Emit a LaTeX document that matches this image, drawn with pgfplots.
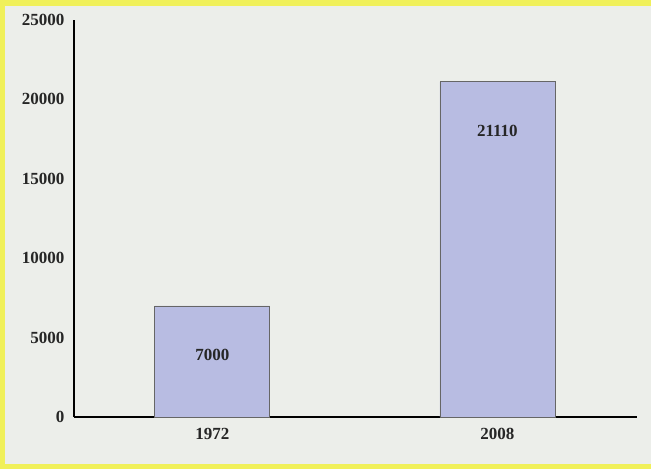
\documentclass[border=0pt]{standalone}
\usepackage{pgfplots}
\pgfplotsset{compat=1.18}
\usepackage{fontspec}
\setmainfont{Liberation Serif}
\definecolor{bgcol}{RGB}{236,238,234}
\definecolor{ylw}{RGB}{240,240,90}
\definecolor{barcol}{RGB}{184,188,226}
\begin{document}
\begin{tikzpicture}[x=1pt,y=1pt]
\useasboundingbox (0,0) rectangle (651,469);
\fill[bgcol] (0,0) rectangle (651,469);
\fill[ylw] (0,463) rectangle (651,469);
\fill[ylw] (0,0) rectangle (651,5);
\fill[ylw] (0,0) rectangle (5,469);
\begin{axis}[
  at={(74pt,52pt)}, anchor=south west,
  scale only axis, width=563pt, height=397pt,
  xmin=-0.485, xmax=1.49,
  ymin=0, ymax=25000,
  ytick={0,5000,10000,15000,20000,25000},
  scaled y ticks=false,
  xtick={0,1}, xticklabels={1972,2008},
  axis x line*=bottom, axis y line*=left,
  x axis line style={-, line width=2.2pt},
  y axis line style={-, line width=1.6pt},
  major tick length=0pt,
  tick label style={font=\fontsize{17}{19}\selectfont\bfseries, text=black!85},
  /pgf/number format/assume math mode=true,
  /pgf/number format/1000 sep={},
  yticklabel style={xshift=-6pt},
  xticklabel style={yshift=-8pt},
  axis background/.style={fill=none},
  clip=false,
]
\addplot[ybar, bar width=115pt, fill=barcol, draw=gray!80!black, line width=0.6pt,
  nodes near coords,
  nodes near coords style={anchor=north, yshift=-40pt, font=\fontsize{17}{19}\selectfont\bfseries, text=black!85, /pgf/number format/1000 sep={}, /pgf/number format/assume math mode=true}]
  coordinates {(0,7000) (1,21110)};
\end{axis}
\end{tikzpicture}
\end{document}
